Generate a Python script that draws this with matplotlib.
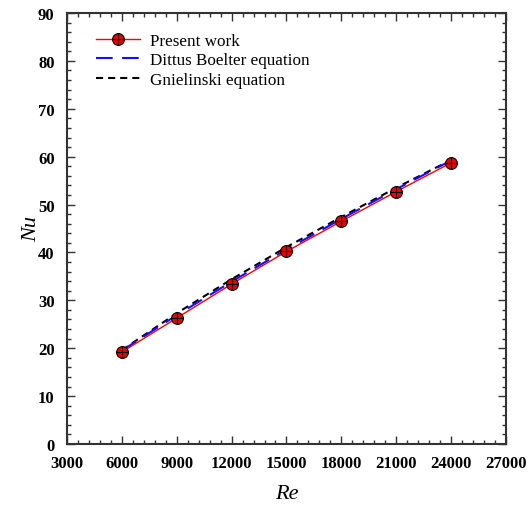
import matplotlib
matplotlib.use("Agg")
import matplotlib.pyplot as plt
from matplotlib.ticker import MultipleLocator

# Reynolds numbers and Nusselt numbers
re_values = [6000, 9000, 12000, 15000, 18000, 21000, 24000]
nu_present = [19.2, 26.3, 33.4, 40.2, 46.5, 52.7, 58.7]
nu_dittus = [19.5, 26.9, 33.9, 40.6, 47.0, 53.2, 59.2]
nu_gniel = [19.6, 27.3, 34.4, 41.1, 47.4, 53.5, 59.3]

x_ticks = [3000, 6000, 9000, 12000, 15000, 18000, 21000, 24000, 27000]
y_ticks = [0, 10, 20, 30, 40, 50, 60, 70, 80, 90]

plt.rcParams['font.family'] = ['Liberation Serif', 'DejaVu Serif']

blue_dash = (0, (8, 4.5))
black_dash = (0, (3.4, 2.4))

fig = plt.figure(figsize=(5.28, 5.10), dpi=100)
ax = fig.add_axes([0.127, 0.1275, 0.831, 0.845])

ax.plot(re_values, nu_gniel, color='black', lw=1.5, ls=black_dash, zorder=2)
ax.plot(re_values, nu_dittus, color='#1010ff', lw=1.5, ls=blue_dash, zorder=3)
line, = ax.plot(re_values, nu_present, color='red', lw=1.0, marker='o',
                markersize=8.5, markerfacecolor='#ee0000', markeredgecolor='black',
                markeredgewidth=0.8, zorder=4)
cross, = ax.plot(re_values, nu_present, ls='none', marker='+', markersize=8.5,
                 color='black', markeredgewidth=0.8, zorder=5)

h_d, = ax.plot([], [], color='#1010ff', lw=1.5, ls=blue_dash)
h_g, = ax.plot([], [], color='black', lw=1.5, ls=black_dash)

ax.legend([(line, cross), h_d, h_g],
          ['Present work', 'Dittus Boelter equation', 'Gnielinski equation'],
          loc='upper left', bbox_to_anchor=(0.03, 0.99), frameon=False,
          fontsize=12.3, handlelength=2.6, handletextpad=0.6, labelspacing=0.22)

ax.set_xlim(3000, 27000)
ax.set_ylim(0, 90)
ax.set_xticks(x_ticks)
ax.set_yticks(y_ticks)
ax.xaxis.set_minor_locator(MultipleLocator(600))
ax.yaxis.set_minor_locator(MultipleLocator(2))
ax.tick_params(which='both', direction='in', top=True, right=True, color='#333333')
ax.tick_params(which='major', length=6, width=1.0, labelsize=12)
ax.tick_params(axis='x', which='major', pad=8)
ax.tick_params(axis='y', which='major', pad=9)
ax.tick_params(which='minor', length=3, width=1.0)
for lab in ax.get_xticklabels() + ax.get_yticklabels():
    lab.set_fontweight('bold')
for sp in ax.spines.values():
    sp.set_linewidth(1.5)
    sp.set_color('#333333')

ax.set_xlabel('Re', fontsize=16, style='italic', labelpad=9)
ax.set_ylabel('Nu', fontsize=16, style='italic', labelpad=-2)

fig.savefig('out.png', dpi=100)
